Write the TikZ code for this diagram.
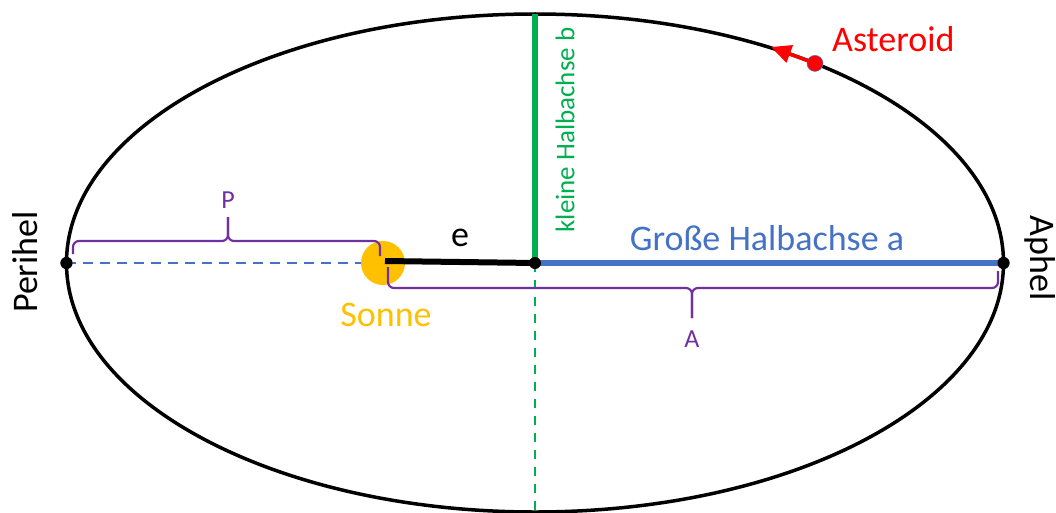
\documentclass[tikz,border=0pt]{standalone}
\usepackage{fontspec}
\setmainfont{Carlito}
\usetikzlibrary{arrows.meta}

\definecolor{bahnblau}{HTML}{4472C4}
\definecolor{bahngruen}{HTML}{00B050}
\definecolor{sonnengelb}{HTML}{FFC000}
\definecolor{klammerlila}{HTML}{7030A0}

\tikzset{
    punkt/.style={circle,fill=black,inner sep=0pt,minimum size=12pt},
    beschriftung/.style={inner sep=0pt,font=\fontsize{36}{40}\selectfont},
    klammer/.style={klammerlila,line width=2.2pt,rounded corners=6pt},
    klammertext/.style={inner sep=0pt,text=klammerlila,font=\fontsize{26}{30}\selectfont}
}

\begin{document}
\begin{tikzpicture}[x=1pt,y=1pt,>=latex]
        \useasboundingbox (-535,-249) rectangle (521,263);

        % die Bahn und ihre Hauptpunkte
        \draw[line width=3.5pt] (0,0) ellipse (468.5 and 249);
        \coordinate (mitte) at (0,0);
        \coordinate (oben) at (0,249);
        \coordinate (unten) at (0,-249);
        \node[punkt] (peri) at (-468.5,0) {};
        \node[punkt] (aph) at (468.5,0) {};

        % Achsen
        \draw[bahnblau,line width=2.5pt,dash pattern=on 10pt off 7pt] (peri.center) -- (-152,0);
        \draw[bahnblau,line width=6pt] (mitte) -- (aph.center);
        \draw[bahngruen,line width=6pt] (mitte) -- (oben);
        \draw[bahngruen,line width=2.5pt,dash pattern=on 9pt off 8pt] (mitte) -- (unten);

        % Sonne und Exzentrizitaet
        \node[circle,fill=sonnengelb,inner sep=0pt,minimum size=44pt] (sonne) at (-152,0) {};
        \draw[line width=6pt] (-150,2) -- (mitte);
        \node[punkt] at (mitte) {};
        \node[punkt] at (peri) {};
        \node[punkt] at (aph) {};

        % Klammern P und A
        \draw[klammer] (-462,9) -- (-462,22) -- (-307,22) -- (-307,46);
        \draw[klammer] (-155,7) -- (-155,22) -- (-307,22) -- (-307,46);
        \node[klammertext,anchor=south] (P) at (-307,54) {P};
        \draw[klammer] (-147,-4) -- (-147,-25) -- (157,-25) -- (157,-55);
        \draw[klammer] (463,-8) -- (463,-25) -- (157,-25) -- (157,-55);
        \node[klammertext,anchor=north] (A) at (157,-68) {A};

        % Asteroid
        \node[circle,fill=red,draw=bahnblau,line width=0.5pt,inner sep=0pt,minimum size=16pt] (ast) at (53.3:468.5 and 249) {};
        \coordinate (flug) at (236,216);
        \draw[red,line width=3.5pt,-{Triangle[length=20pt,width=18pt]}] (ast) -- (flug);
        \node[beschriftung,text=red,anchor=west] (asttext) at (297,224) {Asteroid};

        % Beschriftungen
        \node[beschriftung] (e) at (-75,25) {e};
        \node[beschriftung,text=sonnengelb] (sonnetext) at (-149,-52) {Sonne};
        \node[beschriftung,text=bahnblau] (grosse) at (232,25) {Große Halbachse a};
        \node[inner sep=0pt,rotate=90,text=bahngruen,font=\fontsize{27}{30}\selectfont] (kleine) at (30,133) {kleine Halbachse b};
        \node[beschriftung,rotate=90] (perihel) at (-510,1) {Perihel};
        \node[beschriftung,rotate=-90] (aphel) at (505,5) {Aphel};
\end{tikzpicture}
\end{document}
